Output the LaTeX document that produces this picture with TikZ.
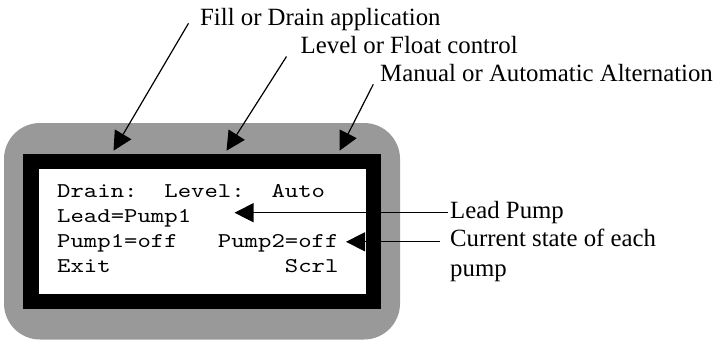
\documentclass[tikz,border=0pt]{standalone}
\usepackage{fontspec}
\setmainfont{Liberation Serif}
\newfontfamily\lcdfont[FakeStretch=1.215]{lmmono10-regular.otf}
\usetikzlibrary{arrows.meta}
\definecolor{bezelgray}{RGB}{153,153,153}
\begin{document}
\begin{tikzpicture}[x=1pt,y=-1pt,
  callout/.style={anchor=base west, inner sep=0pt, font=\fontsize{24.8}{30}\selectfont},
  lcd/.style={anchor=base west, inner sep=0pt, font=\lcdfont\fontsize{21}{25}\selectfont},
  pointer/.style={-{Triangle[length=19pt,width=19pt]}, line width=1.2pt},
  panel/.style={anchor=north west, inner sep=0pt, outer sep=0pt}]
\useasboundingbox (0,0) rectangle (714,341);
% housing
\node (bezel) [panel, fill=bezelgray, rounded corners=36pt, minimum width=396pt, minimum height=216.5pt] at (4,123) {};
\node (frame) [panel, fill=black, minimum width=358pt, minimum height=155pt] at (23,154) {};
\node (screen) [panel, fill=white, minimum width=327pt, minimum height=125pt] at (39,169) {};
% display lines
\node (row1) [lcd] at (57,197.5) {Drain:~~Level:~~Auto};
\node (row2) [lcd] at (57,222.5) {Lead=Pump1};
\node (row3) [lcd] at (57,247.5) {Pump1=off~~~Pump2=off};
\node (row4) [lcd] at (57,272.5) {Exit~~~~~~~~~~~~~Scrl};
% callouts
\node (fill) [callout] at (200,25) {Fill or Drain application};
\node (level) [callout] at (300.5,53.3) {Level or Float control};
\node (manual) [callout] at (380,81.7) {Manual or Automatic Alternation};
\node (lead) [callout] at (450,218.3) {Lead Pump};
\node (cur1) [callout] at (450,246.7) {Current state of each};
\node (cur2) [callout] at (450,276.7) {pump};
% arrow ends
\coordinate (fillS) at (188.5,23.3);
\coordinate (fillT) at (113.5,150.7);
\coordinate (levelS) at (286.5,56.5);
\coordinate (levelT) at (226.5,150.7);
\coordinate (manS) at (373.3,84.3);
\coordinate (manT) at (339.5,150.7);
\coordinate (leadS) at (448,212.7);
\coordinate (leadT) at (234.5,212.7);
\coordinate (curS) at (440,241.8);
\coordinate (curT) at (346,241.8);
\draw[pointer] (fillS) -- (fillT);
\draw[pointer] (levelS) -- (levelT);
\draw[pointer] (manS) -- (manT);
\draw[pointer] (leadS) -- (leadT);
\draw[pointer] (curS) -- (curT);
\end{tikzpicture}
\end{document}
